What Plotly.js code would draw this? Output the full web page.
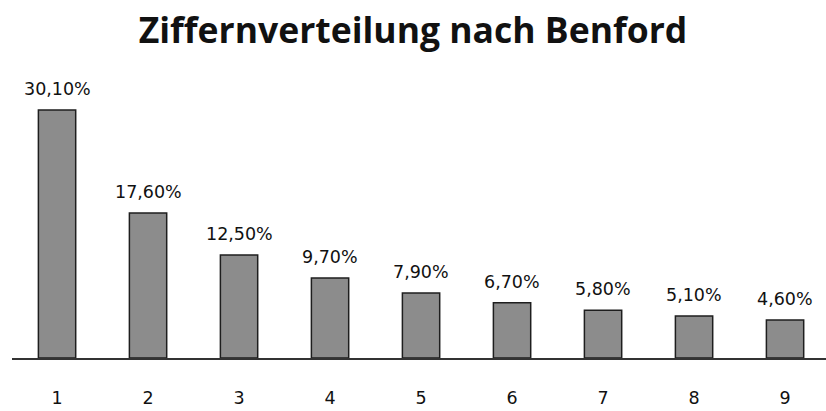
<!DOCTYPE html>
<html><head><meta charset="utf-8">
<script src="https://cdn.plot.ly/plotly-3.0.1.min.js"></script>
<style>html,body{margin:0;padding:0;background:#fff;}#chart{width:826px;height:411px;}</style>
</head><body><div id="chart"></div>
<script>
const digits = ['1','2','3','4','5','6','7','8','9'];
const shares = [30.1, 17.6, 12.5, 9.7, 7.9, 6.7, 5.8, 5.1, 4.6];
const labels = ['30,10%','17,60%','12,50%','9,70%','7,90%','6,70%','5,80%','5,10%','4,60%'];

const trace = {
  type: 'bar', x: digits, y: shares, width: 0.41,
  marker: {color: '#8c8c8c', line: {color: '#1e1e1e', width: 1.5}},
  hoverinfo: 'none'
};
const annotations = digits.map((d, i) => ({
  x: i, y: shares[i], text: labels[i], showarrow: false,
  xref: 'x', yref: 'y',
  yanchor: 'bottom', yshift: 9,
  font: {family: 'DejaVu Sans, sans-serif', size: 17.5, color: '#111'}
}));
const layout = {
  width: 826, height: 411,
  margin: {l: 12, r: 0, t: 94, b: 53},
  paper_bgcolor: '#fff', plot_bgcolor: '#fff',
  title: {text: '<b>Ziffernverteilung nach Benford</b>', x: 0.5, xanchor: 'center', y: 0.925, yanchor: 'middle',
    font: {family: 'Open Sans, sans-serif', size: 35.5, color: '#111'}},
  xaxis: {type: 'category', range: [-0.495, 8.45], showline: true, linecolor: '#333', linewidth: 2,
    ticks: '', showgrid: false, zeroline: false, ticklabelstandoff: 23,
    tickfont: {family: 'DejaVu Sans, sans-serif', size: 17.5, color: '#111'}},
  yaxis: {range: [0, 32.04], visible: false, showgrid: false, zeroline: false},
  annotations: annotations,
  showlegend: false
};
Plotly.newPlot('chart', [trace], layout, {displayModeBar: false, staticPlot: true});
</script></body></html>
